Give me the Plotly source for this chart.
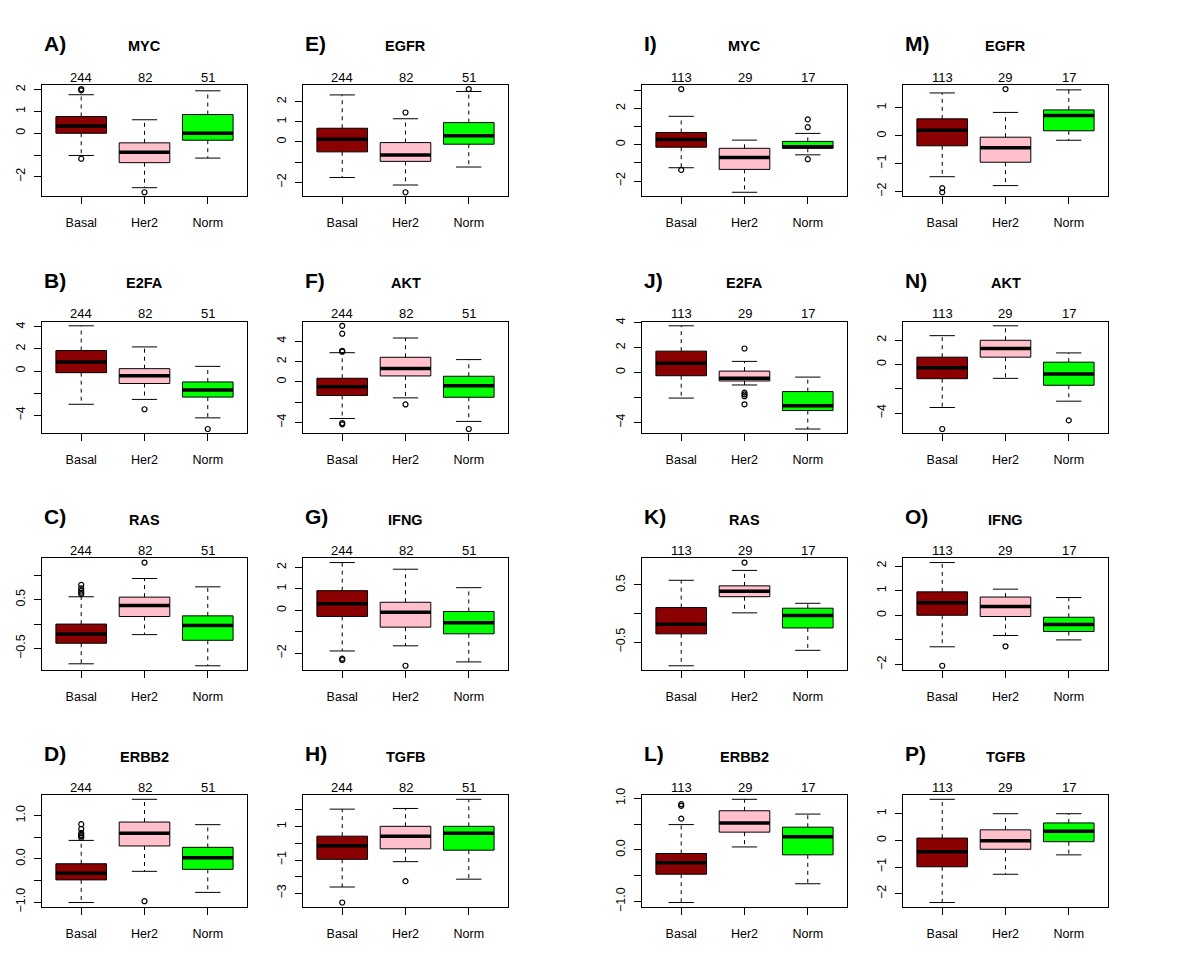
import plotly.graph_objects as go

# ---------------- data ----------------
groups = ["Basal", "Her2", "Norm"]
group_colors = ["#8B0000", "#FFC0CB", "#00FF00"]

letters = ["A)", "B)", "C)", "D)", "E)", "F)", "G)", "H)",
           "I)", "J)", "K)", "L)", "M)", "N)", "O)", "P)"]
genes = ["MYC", "E2FA", "RAS", "ERBB2", "EGFR", "AKT", "IFNG", "TGFB",
         "MYC", "E2FA", "RAS", "ERBB2", "EGFR", "AKT", "IFNG", "TGFB"]
counts_full = [244, 82, 51]
counts_sub = [113, 29, 17]
panel_counts = [counts_full] * 8 + [counts_sub] * 8

# per panel: [Basal, Her2, Norm]
lower_whisker = [
    [-1.02, -2.50, -1.14], [-3.01, -2.57, -4.24], [-0.81, -0.215, -0.85], [-1.01, -0.289, -0.776],
    [-1.76, -2.13, -1.24], [-3.61, -1.58, -3.90], [-1.89, -1.65, -2.40], [-2.62, -1.10, -2.15],
    [-1.27, -2.62, -0.56], [-2.05, -1.00, -4.53], [-0.914, 0.011, -0.644], [-1.02, 0.057, -0.656],
    [-1.47, -1.79, -0.16], [-3.54, -1.14, -3.02], [-1.28, -0.82, -1.00], [-2.33, -1.27, -0.543],
]
q1 = [
    [0.00, -1.35, -0.32], [-0.15, -1.13, -2.36], [-0.39, 0.154, -0.33], [-0.487, 0.297, -0.243],
    [-0.49, -0.96, -0.11], [-1.35, 0.58, -1.52], [-0.28, -0.78, -1.09], [-0.96, -0.33, -0.41],
    [-0.14, -1.36, -0.20], [-0.26, -0.68, -3.05], [-0.356, 0.293, -0.253], [-0.471, 0.344, -0.096],
    [-0.36, -0.95, 0.18], [-1.17, 0.60, -1.71], [0.00, -0.05, -0.66], [-0.99, -0.333, -0.05],
]
median = [
    [0.33, -0.87, 0.00], [0.81, -0.42, -1.73], [-0.20, 0.38, -0.027], [-0.335, 0.593, 0.023],
    [0.13, -0.65, 0.31], [-0.48, 1.32, -0.39], [0.31, -0.08, -0.58], [-0.15, 0.43, 0.60],
    [0.29, -0.71, -0.11], [0.74, -0.47, -2.66], [-0.19, 0.39, -0.034], [-0.248, 0.522, 0.255],
    [0.20, -0.43, 0.73], [-0.27, 1.31, -0.79], [0.51, 0.36, -0.37], [-0.43, -0.012, 0.346],
]
q3 = [
    [0.77, -0.44, 0.86], [1.85, 0.21, -0.99], [0.00, 0.55, 0.168], [-0.114, 0.85, 0.266],
    [0.68, -0.03, 0.96], [0.35, 2.42, 0.55], [0.92, 0.38, -0.05], [0.43, 1.02, 1.02],
    [0.67, -0.20, 0.18], [1.71, 0.11, -1.53], [0.103, 0.483, 0.092], [-0.07, 0.758, 0.44],
    [0.61, -0.05, 0.93], [0.60, 1.99, 0.19], [0.95, 0.74, -0.08], [0.086, 0.395, 0.654],
]
upper_whisker = [
    [1.77, 0.62, 1.95], [4.09, 2.18, 0.42], [0.557, 0.93, 0.76], [0.426, 1.376, 0.79],
    [2.33, 1.15, 2.50], [2.87, 4.32, 2.19], [2.23, 1.92, 1.06], [2.05, 2.09, 2.64],
    [1.56, 0.25, 0.62], [3.74, 0.89, -0.37], [0.58, 0.753, 0.178], [0.49, 0.98, 0.694],
    [1.54, 0.84, 1.65], [2.37, 3.18, 0.95], [2.14, 1.06, 0.72], [1.54, 1.00, 1.00],
]
outliers = [
    [[2.03, 1.97, -1.17], [-2.71], []],
    [[], [-3.46], [-5.25]],
    [[0.80, 0.73, 0.68, 0.64, 0.61], [1.255], []],
    [[0.80, 0.69, 0.60, 0.555, 0.525, 0.49], [-0.98], []],
    [[], [1.46, -2.49], [2.62]],
    [[5.52, 4.74, 3.06, 2.97, -4.06, -4.19], [-2.23], [-4.65]],
    [[-2.25, -2.31], [-2.58], []],
    [[-3.55], [-2.27], []],
    [[3.06, -1.39], [], [1.39, 0.96, -0.80]],
    [[], [1.92, -1.61, -1.75, -1.90, -2.55], []],
    [[], [0.89], []],
    [[0.885, 0.853, 0.605], [], []],
    [[-1.88, -2.03], [1.68], []],
    [[-5.31], [], [-4.60]],
    [[-2.05], [-1.26], []],
    [[], [], []],
]

y_tick_values = [
    [-2, -1, 0, 1, 2], [-4, -2, 0, 2, 4], [-0.5, 0, 0.5, 1.0], [-1, -0.5, 0, 0.5, 1],
    [-2, -1, 0, 1, 2], [-4, -2, 0, 2, 4], [-2, -1, 0, 1, 2], [-3, -2, -1, 0, 1, 2],
    [-2, -1, 0, 1, 2, 3], [-4, -2, 0, 2, 4], [-0.5, 0, 0.5], [-1, -0.5, 0, 0.5, 1],
    [-2, -1, 0, 1], [-4, -2, 0, 2], [-2, -1, 0, 1, 2], [-2, -1, 0, 1],
]
y_tick_labels = [
    ["−2", "", "0", "1", "2"], ["−4", "", "0", "2", "4"], ["−0.5", "", "0.5", ""], ["−1.0", "", "0.0", "", "1.0"],
    ["−2", "", "0", "1", "2"], ["−4", "", "0", "2", "4"], ["−2", "", "0", "1", "2"], ["−3", "", "−1", "", "1", ""],
    ["−2", "", "0", "", "2", ""], ["−4", "", "0", "2", "4"], ["−0.5", "", "0.5"], ["−1.0", "", "0.0", "", "1.0"],
    ["−2", "−1", "0", "1"], ["−4", "", "0", "2"], ["−2", "", "0", "1", "2"], ["−2", "−1", "0", "1"],
]

# ---------------- layout geometry (pixels) ----------------
W, H = 1200, 960
col_left = [42, 303, 642, 903]
row_top = [79, 319, 559, 799]
panel_w, panel_h = 205, 113
FONT = "Liberation Sans, Arial, Helvetica, sans-serif"
box_width = 0.8
cap_half = 0.2
positions = [1, 2, 3]

fig = go.Figure()
layout = dict(
    width=W, height=H, margin=dict(l=0, r=0, t=0, b=0),
    paper_bgcolor="white", plot_bgcolor="white", showlegend=False,
    font=dict(family=FONT, size=12, color="black"),
)
annotations = []

for i in range(16):
    col, row = i // 4, i % 4
    n = i + 1
    xa = "x" if n == 1 else f"x{n}"
    ya = "y" if n == 1 else f"y{n}"
    x0 = col_left[col] / W
    x1 = (col_left[col] + panel_w) / W
    y1 = 1 - row_top[row] / H
    y0 = 1 - (row_top[row] + panel_h) / H

    wx, wy, cx, cy, mx, my, ox, oy = [], [], [], [], [], [], [], []
    allv = []
    for g in range(3):
        p = positions[g]
        fig.add_trace(go.Box(
            x=[p], q1=[q1[i][g]], median=[median[i][g]], q3=[q3[i][g]],
            lowerfence=[q1[i][g]], upperfence=[q3[i][g]],
            width=box_width, fillcolor=group_colors[g], orientation="v",
            line=dict(color="black", width=1), whiskerwidth=0,
            boxpoints=False, hoverinfo="skip", xaxis=xa, yaxis=ya,
        ))
        wx += [p, p, None, p, p, None]
        wy += [q3[i][g], upper_whisker[i][g], None, q1[i][g], lower_whisker[i][g], None]
        cx += [p - cap_half, p + cap_half, None, p - cap_half, p + cap_half, None]
        cy += [upper_whisker[i][g], upper_whisker[i][g], None,
               lower_whisker[i][g], lower_whisker[i][g], None]
        mx += [p - box_width / 2, p + box_width / 2, None]
        my += [median[i][g], median[i][g], None]
        ox += [p] * len(outliers[i][g])
        oy += outliers[i][g]
        allv += [lower_whisker[i][g], upper_whisker[i][g]] + outliers[i][g]

    fig.add_trace(go.Scatter(x=wx, y=wy, mode="lines", line=dict(color="black", width=1, dash="4px,4px"),
                             hoverinfo="skip", xaxis=xa, yaxis=ya))
    fig.add_trace(go.Scatter(x=cx, y=cy, mode="lines", line=dict(color="black", width=1),
                             hoverinfo="skip", xaxis=xa, yaxis=ya))
    fig.add_trace(go.Scatter(x=mx, y=my, mode="lines", line=dict(color="black", width=3.5),
                             hoverinfo="skip", xaxis=xa, yaxis=ya))
    if ox:
        fig.add_trace(go.Scatter(x=ox, y=oy, mode="markers",
                                 marker=dict(symbol="circle-open", size=5, color="black", line=dict(width=1.2)),
                                 hoverinfo="skip", xaxis=xa, yaxis=ya))

    lo, hi = min(allv), max(allv)
    pad = 0.04 * (hi - lo)
    common = dict(showgrid=False, zeroline=False, showline=True, mirror=True,
                  linecolor="black", linewidth=1, ticks="outside", ticklen=7,
                  tickcolor="black", tickwidth=1, tickfont=dict(family=FONT, size=12.5, color="black"))
    layout["xaxis" if n == 1 else f"xaxis{n}"] = dict(
        domain=[x0, x1], anchor=ya, range=[0.38, 3.62], tickmode="array",
        tickvals=positions, ticktext=groups, ticklabelstandoff=8, **common)
    layout["yaxis" if n == 1 else f"yaxis{n}"] = dict(
        domain=[y0, y1], anchor=xa, range=[lo - pad, hi + pad], tickmode="array",
        tickvals=y_tick_values[i], ticktext=y_tick_labels[i], tickangle=-90,
        ticklabelstandoff=4, **common)

    # panel letter
    annotations.append(dict(text=f"<b>{letters[i]}</b>", xref="paper", yref="paper",
                            x=col_left[col] / W, y=1 - (row_top[row] - 42) / H,
                            xanchor="left", yanchor="middle", showarrow=False,
                            font=dict(family=FONT, size=21, color="black")))
    # gene title
    annotations.append(dict(text=f"<b>{genes[i]}</b>", xref="paper", yref="paper",
                            x=(col_left[col] + panel_w / 2) / W, y=1 - (row_top[row] - 39) / H,
                            xanchor="center", yanchor="middle", showarrow=False,
                            font=dict(family=FONT, size=14.5, color="black")))
    # counts
    for g in range(3):
        annotations.append(dict(text=str(panel_counts[i][g]), xref=xa, yref="paper",
                                x=positions[g], y=1 - (row_top[row] - 8) / H,
                                xanchor="center", yanchor="middle", showarrow=False,
                                font=dict(family=FONT, size=13, color="black")))

layout["annotations"] = annotations
fig.update_layout(**layout)
fig.write_html(
    "out.html",
    config={"displayModeBar": False, "staticPlot": True},
    post_script="document.body.style.margin='0';document.body.style.overflow='hidden';",
)
